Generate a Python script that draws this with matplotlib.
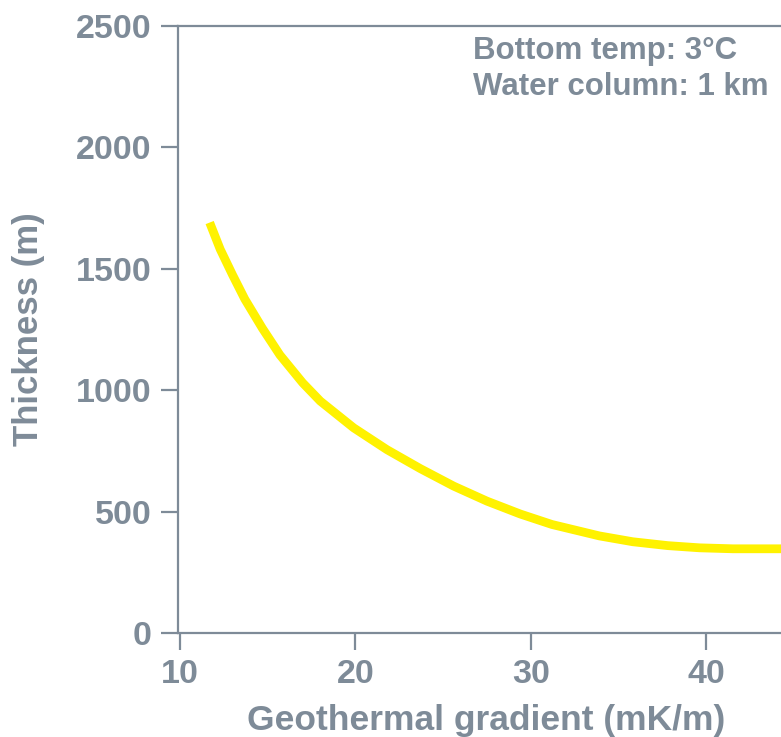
import matplotlib.pyplot as plt

# values
gradient = [11.7, 12.3, 13.0, 13.7, 14.7, 15.7, 17.0, 18.0, 19.9, 21.8, 23.7,
            25.6, 27.5, 29.4, 31.2, 33.9, 35.8, 37.8, 39.6, 41.5, 44.3]
thickness = [1690, 1580, 1475, 1375, 1255, 1145, 1030, 955, 845, 755, 677,
             605, 543, 490, 447, 400, 376, 360, 351, 347, 347]

xticks = [10, 20, 30, 40]
yticks = [0, 500, 1000, 1500, 2000, 2500]

grey = '#7e8b98'
plt.rcParams['font.family'] = ['Liberation Sans', 'DejaVu Sans']
plt.rcParams['font.weight'] = 'bold'

fig = plt.figure(figsize=(7.81, 7.37), dpi=100)
ax = fig.add_axes([0.228, 0.141, 0.789, 0.824])

ax.plot(gradient, thickness, color='#fff200', lw=6.3,
        solid_capstyle='butt', solid_joinstyle='round')

ax.set_xlim(9.9, 45)
ax.set_ylim(0, 2500)
ax.set_xticks(xticks)
ax.set_yticks(yticks)

for s in ['left', 'bottom', 'top']:
    ax.spines[s].set_color(grey)
    ax.spines[s].set_linewidth(1.6)
ax.spines['right'].set_visible(False)
ax.tick_params(colors=grey, labelsize=24.5, width=1.6, length=12, pad=7, direction='out')

ax.set_xlabel('Geothermal gradient (mK/m)', fontsize=25.5, color=grey, fontweight='bold', labelpad=10)
ax.set_ylabel('Thickness (m)', fontsize=25, color=grey, fontweight='bold', labelpad=22)

ax.text(26.7, 2458, 'Bottom temp: 3°C\nWater column: 1 km', fontsize=22.5, color=grey,
        fontweight='bold', va='top', ha='left', linespacing=1.25)

fig.savefig('out.png', dpi=100)
